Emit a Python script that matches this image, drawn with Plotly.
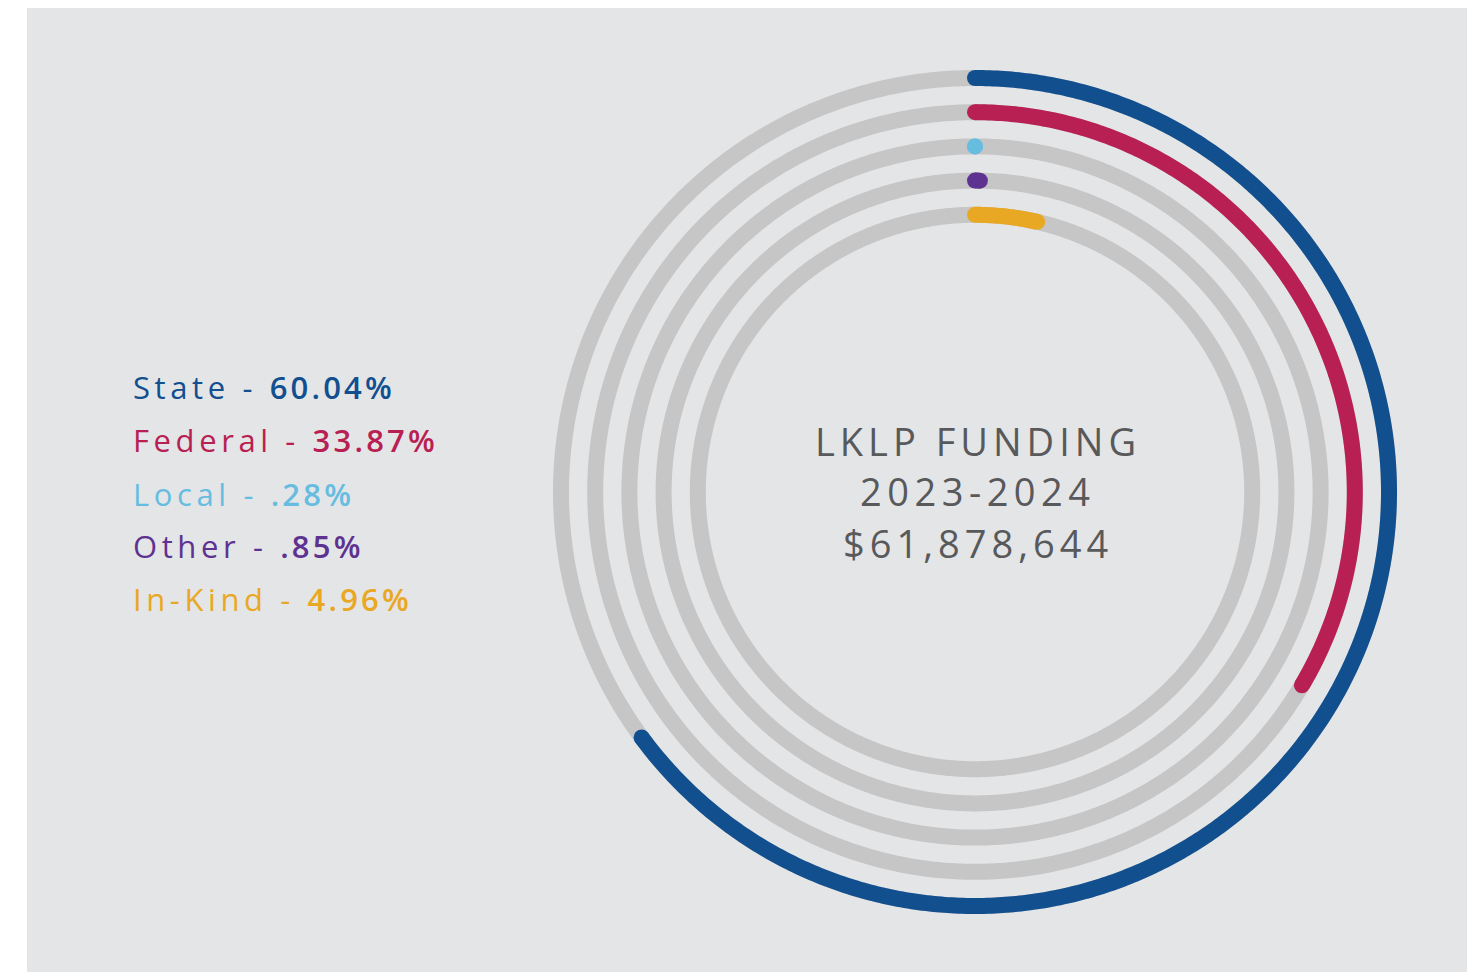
import numpy as np
import plotly.graph_objects as go

# ---- data ----
categories = ["State", "Federal", "Local", "Other", "In-Kind"]
share_labels = ["60.04%", "33.87%", ".28%", ".85%", "4.96%"]
arc_percent = [64.9, 33.5, 0.0, 0.25, 3.6]   # arc sweep as drawn (percent of full circle)
colors = ["#124f8f", "#b81f53", "#67bde0", "#5e3290", "#e9a823"]
title_lines = ["LKLP FUNDING", "2023-2024", "$61,878,644"]

# ---- layout constants ----
W, H = 1483, 972
OFF = 8  # page body margin
CX, CY = 975 - OFF, 492 - OFF
RMAX = 440
OUTER_R, STEP, STROKE = 414, 34.2, 16
RING_GRAY = "#c6c6c6"
PANEL = "#e4e5e7"
TEXT_GRAY = "#58595b"

fig = go.Figure()

for i, (cat, pct, col) in enumerate(zip(categories, arc_percent, colors)):
    r = OUTER_R - i * STEP
    th_full = np.linspace(0, 360, 721)
    fig.add_trace(go.Scatterpolar(
        r=np.full_like(th_full, r), theta=th_full, mode="lines",
        line=dict(color=RING_GRAY, width=STROKE), hoverinfo="skip", showlegend=False))
    sweep = pct / 100 * 360
    th = np.linspace(0, sweep, max(int(sweep * 2) + 2, 2))
    fig.add_trace(go.Scatterpolar(
        r=np.full_like(th, r), theta=th, mode="lines",
        line=dict(color=col, width=STROKE), name=cat, showlegend=False,
        hoverinfo="skip"))
    fig.add_trace(go.Scatterpolar(
        r=[r, r], theta=[0, sweep], mode="markers",
        marker=dict(color=col, size=STROKE, line=dict(width=0)),
        showlegend=False, hoverinfo="skip"))

dom_x = [(CX - RMAX) / W, (CX + RMAX) / W]
dom_y = [(H - CY - RMAX) / H, (H - CY + RMAX) / H]

fig.update_layout(
    width=W, height=H,
    margin=dict(l=0, r=0, t=0, b=0),
    paper_bgcolor="white",
    polar=dict(
        domain=dict(x=dom_x, y=dom_y),
        bgcolor="rgba(0,0,0,0)",
        hole=0,
        radialaxis=dict(range=[0, RMAX], visible=False, showgrid=False),
        angularaxis=dict(rotation=90, direction="clockwise", visible=False,
                         showgrid=False, showline=False, ticks=""),
    ),
    shapes=[dict(type="rect", xref="paper", yref="paper",
                 x0=(27 - OFF) / W, x1=(1467 - OFF) / W, y0=-0.05, y1=(H - 7 + OFF) / H,
                 fillcolor=PANEL, line=dict(width=0), layer="below")],
)

FONT = "Open Sans"
legend_y = [387, 440, 494, 546, 599]
annotations = []
for cat, lab, col, yy in zip(categories, share_labels, colors, legend_y):
    txt = (f'<span style="letter-spacing:4.6px">{cat} - </span>'
           f'<span style="font-weight:600;letter-spacing:3.2px">{lab}</span>')
    annotations.append(dict(
        x=(131 - OFF) / W, y=(H - yy + OFF) / H, xref="paper", yref="paper",
        xanchor="left", yanchor="middle", showarrow=False, text=txt,
        font=dict(family=FONT, size=31, color=col, weight=400)))

title_y = [441, 491, 543]
title_w = [400, 500, 400]
title_sp = [5.0, 5.5, 5.0]
for t, yy, wt, sp in zip(title_lines, title_y, title_w, title_sp):
    annotations.append(dict(
        x=(CX + 3) / W, y=(H - yy + OFF) / H, xref="paper", yref="paper",
        xanchor="center", yanchor="middle", showarrow=False,
        text=f'<span style="letter-spacing:{sp}px">{t}</span>',
        font=dict(family=FONT, size=38, color=TEXT_GRAY, weight=wt)))

fig.update_layout(annotations=annotations)
fig.write_html("out.html")
